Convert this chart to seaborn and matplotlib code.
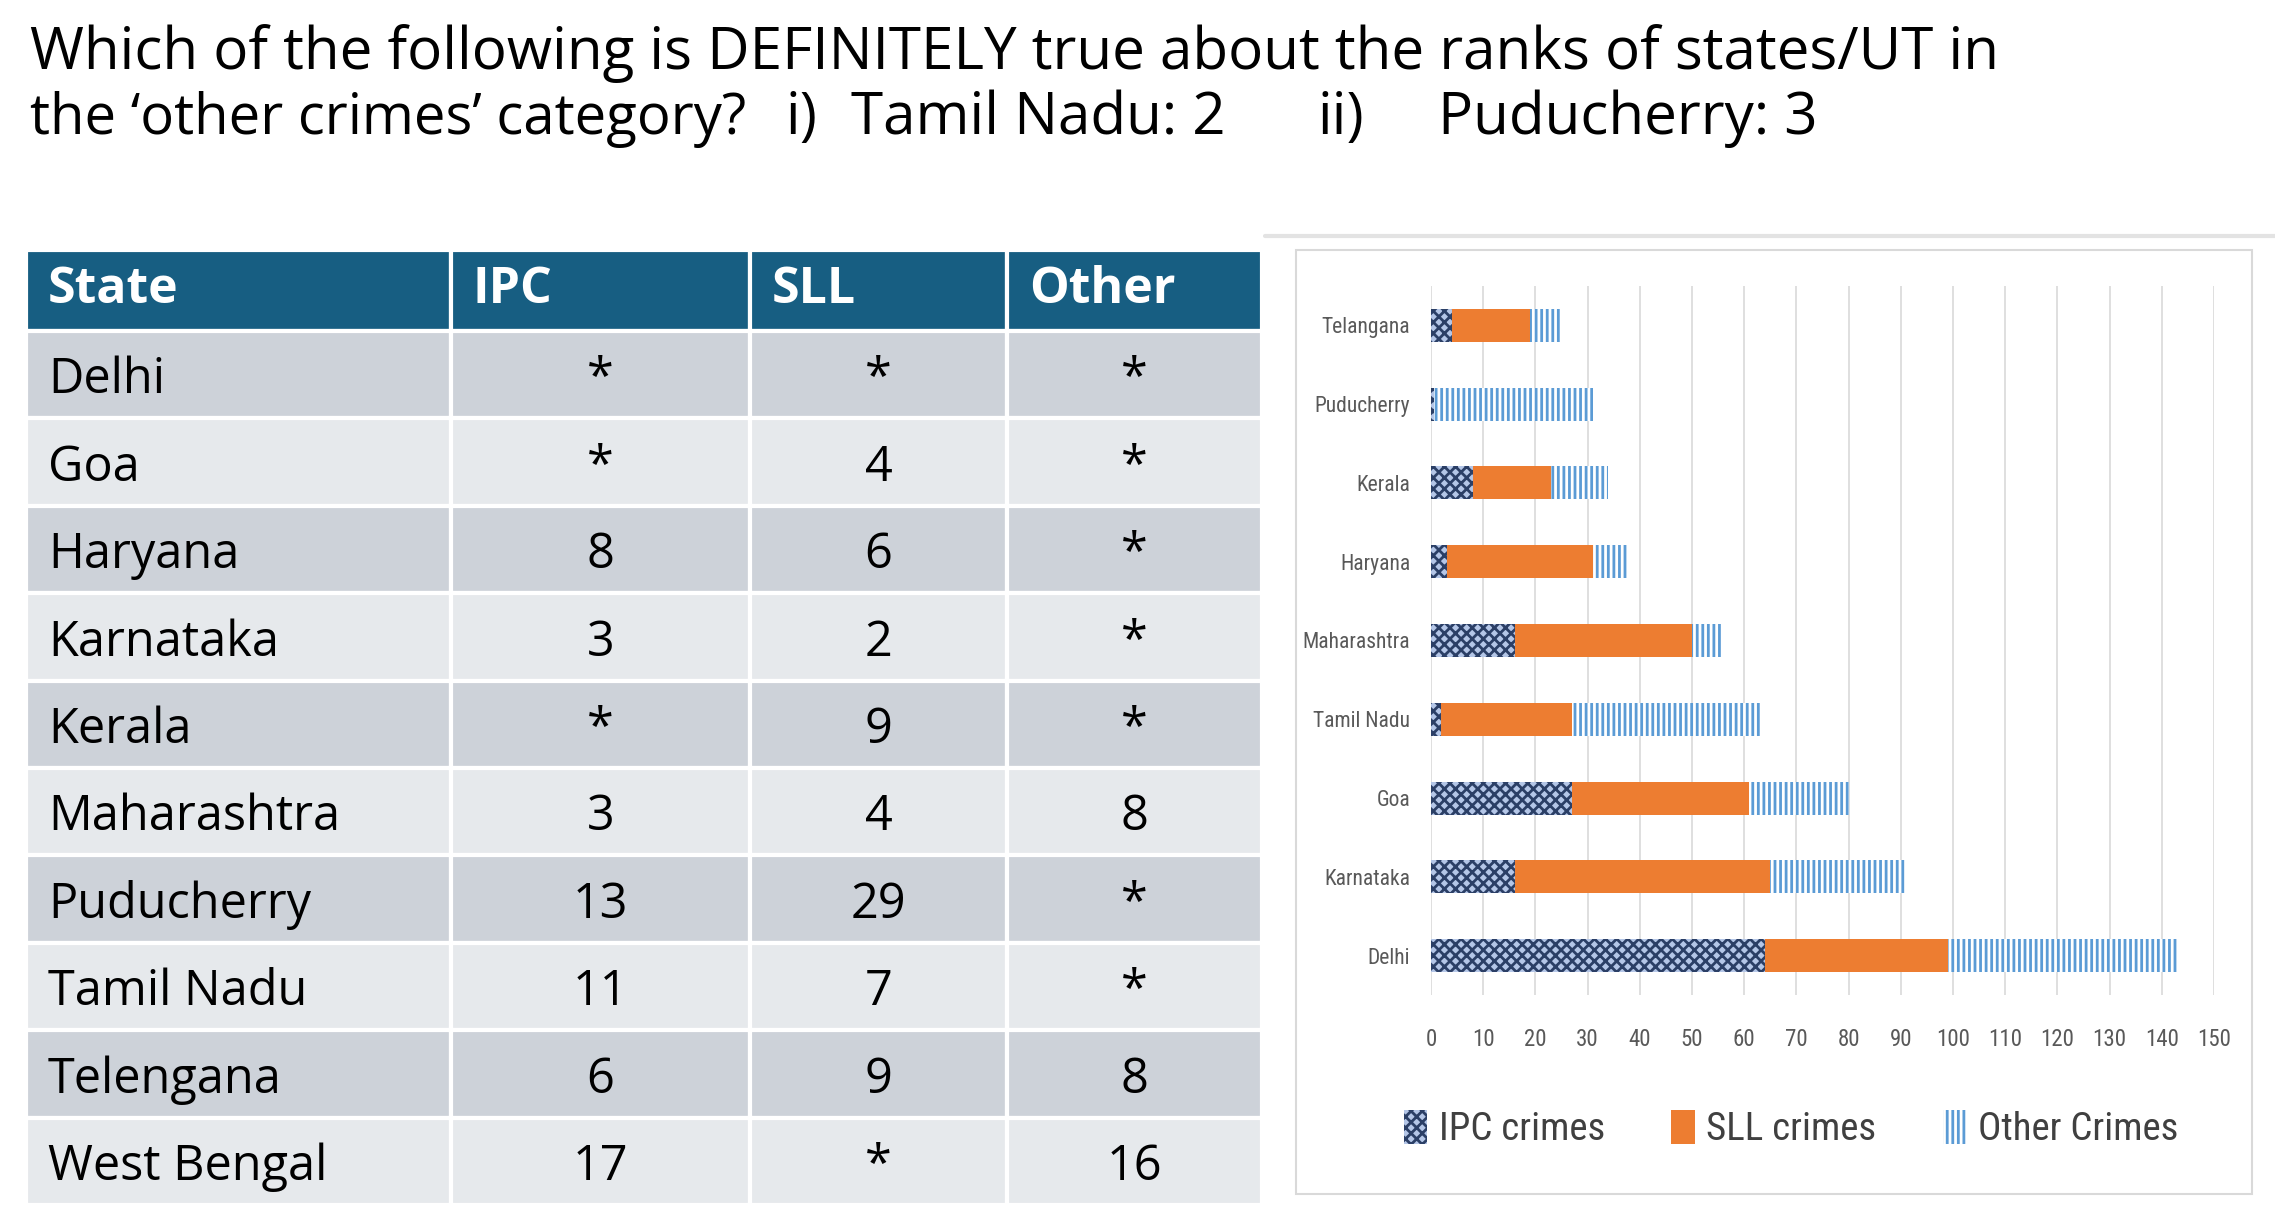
import pandas as pd
import matplotlib.pyplot as plt
import seaborn as sns
from matplotlib.lines import Line2D
from matplotlib.patches import Rectangle, Patch

# ── Data ─────────────────────────────────────────────────────

# rank table
table_states = ['Delhi', 'Goa', 'Haryana', 'Karnataka', 'Kerala',
                'Maharashtra', 'Puducherry', 'Tamil Nadu', 'Telengana', 'West Bengal']
ipc_rank = ['*', '*', '8', '3', '*', '3', '13', '11', '6', '17']
sll_rank = ['*', '4', '6', '2', '9', '4', '29', '7', '9', '*']
other_rank = ['*', '*', '*', '*', '*', '8', '*', '*', '8', '16']
table_header = ['State', 'IPC', 'SLL', 'Other']

# stacked bar chart (top to bottom)
chart_states = ['Telangana', 'Puducherry', 'Kerala', 'Haryana', 'Maharashtra',
                'Tamil Nadu', 'Goa', 'Karnataka', 'Delhi']
ipc_crimes = [4, 0.6, 8, 3, 16, 2, 27, 16, 64]
sll_crimes = [15, 0, 15, 28, 34, 25, 34, 49, 35]
other_crimes = [6, 30.5, 11, 6.5, 6, 36.5, 19, 26, 44]
x_ticks = list(range(0, 151, 10))

df = pd.DataFrame({'state': chart_states, 'ipc': ipc_crimes,
                   'sll': sll_crimes, 'other': other_crimes})
df['ipc_sll'] = df['ipc'] + df['sll']
df['total'] = df['ipc_sll'] + df['other']

# ── Figure ───────────────────────────────────────────────────

sns.set_style('white')
plt.rcParams['font.family'] = ['Open Sans', 'DejaVu Sans']
plt.rcParams['hatch.linewidth'] = 2.0

W, H = 2275, 1228
fig = plt.figure(figsize=(W / 100, H / 100), dpi=100)


def fx(px):
    return px / W


def fy(px):
    return 1 - px / H


# question text
qkw = dict(fontsize=42, color='black', va='center', ha='left')
fig.text(fx(30), fy(54), 'Which of the following is DEFINITELY true about the ranks of states/UT in', **qkw)
fig.text(fx(30), fy(119), 'the \u2018other crimes\u2019 category?', **{**qkw, 'fontsize': 40.5})
fig.text(fx(786), fy(119), 'i)', **qkw)
fig.text(fx(851), fy(119), 'Tamil Nadu: 2', **qkw)
fig.text(fx(1318), fy(119), 'ii)', **qkw)
fig.text(fx(1438), fy(119), 'Puducherry: 3', **qkw)

# ── Table ────────────────────────────────────────────────────

col_px = [425, 299, 257, 255]
ax_t = fig.add_axes([fx(26), fy(1205), fx(1236), 955 / H])
ax_t.axis('off')

cell_text = [list(r) for r in zip(table_states, ipc_rank, sll_rank, other_rank)]
tab = ax_t.table(cellText=cell_text, colLabels=table_header,
                 colWidths=[c / sum(col_px) for c in col_px],
                 cellLoc='center', colLoc='left', bbox=[0, 0, 1, 1])
tab.auto_set_font_size(False)

for (r, c), cell in tab.get_celld().items():
    cell.set_edgecolor('white')
    cell.set_linewidth(3)
    txt = cell.get_text()
    if r == 0:
        cell.set_height(81)
        cell.set_facecolor('#175E82')
        txt.set_fontsize(36)
        txt.set_color('white')
        txt.set_fontweight('bold')
        txt.set_ha('left')
        cell.PAD = 22 / col_px[c]
    else:
        cell.set_height(87.4)
        cell.set_facecolor('#CDD2D9' if r % 2 == 1 else '#E6E9EC')
        txt.set_fontsize(35)
        txt.set_color('black')
        txt.set_va('center_baseline')
        if c == 0:
            txt.set_ha('left')
            cell.PAD = 22 / col_px[c]

# ── Stacked bar chart ────────────────────────────────────────

narrow = ['Liberation Sans Narrow', 'Noto Sans Condensed', 'Roboto Condensed',
          'Open Sans Condensed', 'Noto Sans']

fig.add_artist(Line2D([fx(1265), 1], [fy(236), fy(236)], color='#E3E3E3', lw=3))
fig.add_artist(Rectangle((fx(1296), fy(1194)), fx(2252 - 1296), (1194 - 250) / H,
                         fill=False, edgecolor='#D9D9D9', lw=1.5))

ax = fig.add_axes([fx(1431), fy(995), fx(2214 - 1431), (995 - 286) / H])

sns.barplot(data=df, y='state', x='total', orient='h', color='white', saturation=1,
            hatch='|||', edgecolor='#5B9BD5', linewidth=0, width=0.42, ax=ax)
sns.barplot(data=df, y='state', x='ipc_sll', orient='h', color='#ED7D31', saturation=1,
            linewidth=0, width=0.42, ax=ax)
sns.barplot(data=df, y='state', x='ipc', orient='h', color='#B4C6E7', saturation=1,
            hatch='xxx', edgecolor='#2B3F66', linewidth=0, width=0.42, ax=ax)

ax.set_xlim(0, 150)
ax.set_xticks(x_ticks)
ax.set_xlabel('')
ax.set_ylabel('')
ax.set_axisbelow(True)
ax.xaxis.grid(True, color='#D9D9D9', lw=1.2)
ax.yaxis.grid(False)
sns.despine(ax=ax, left=True, bottom=True)
ax.tick_params(axis='both', length=0, colors='#595959')
ax.tick_params(axis='y', pad=15)
ax.tick_params(axis='x', pad=24)
for lab in ax.get_yticklabels():
    lab.set_fontfamily(narrow)
    lab.set_fontstretch('condensed')
    lab.set_fontsize(15.5)
for lab in ax.get_xticklabels():
    lab.set_fontfamily(narrow)
    lab.set_fontstretch('condensed')
    lab.set_fontsize(16.5)

handles = [
    Patch(facecolor='#B4C6E7', edgecolor='#2B3F66', hatch='xxx', lw=0, label='IPC crimes'),
    Patch(facecolor='#ED7D31', lw=0, label='SLL crimes'),
    Patch(facecolor='white', edgecolor='#5B9BD5', hatch='|||', lw=0, label='Other Crimes'),
]
fig.legend(handles=handles, loc='center', bbox_to_anchor=(fx(1791), fy(1129)),
           ncol=3, frameon=False, handlelength=0.6, handleheight=1.0,
           handletextpad=0.3, columnspacing=1.7, labelcolor='#404040',
           prop={'family': narrow, 'stretch': 'condensed', 'size': 28})

plt.savefig('out.png', dpi=100)
